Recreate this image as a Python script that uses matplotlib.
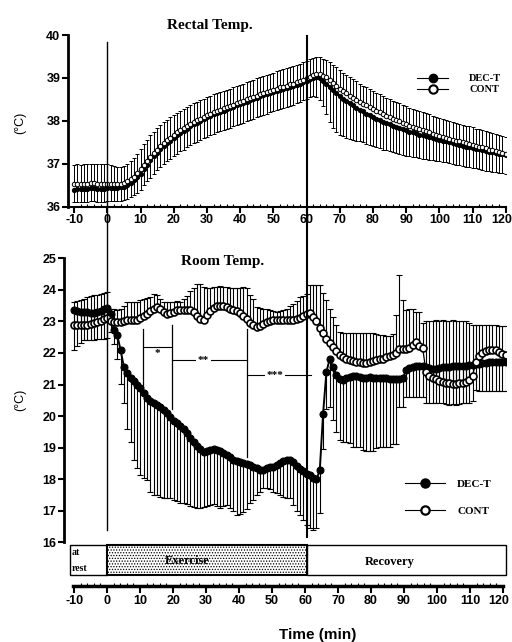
import numpy as np
import matplotlib
matplotlib.use("Agg")
import matplotlib.pyplot as plt
from matplotlib import transforms
from matplotlib.lines import Line2D
from matplotlib.patches import Rectangle
from matplotlib.ticker import MultipleLocator

plt.rcParams["axes.unicode_minus"] = False
plt.rcParams["hatch.linewidth"] = 0.6

# ---------------- data ----------------
time_min = list(range(-10, 121))

rectal_dec = [
    36.40, 36.41, 36.41, 36.42, 36.42, 36.43, 36.43, 36.42, 36.42, 36.42, 36.43,
    36.43, 36.43, 36.44, 36.45, 36.47, 36.51, 36.56, 36.62, 36.69, 36.77,
    36.88, 36.98, 37.08, 37.17, 37.26, 37.34, 37.41, 37.48, 37.54, 37.60,
    37.66, 37.72, 37.77, 37.82, 37.87, 37.92, 37.96, 38.00, 38.04, 38.08,
    38.12, 38.15, 38.18, 38.21, 38.24, 38.27, 38.30, 38.33, 38.36, 38.39,
    38.42, 38.45, 38.48, 38.51, 38.54, 38.57, 38.60, 38.62, 38.65, 38.67,
    38.70, 38.72, 38.74, 38.76, 38.78, 38.81, 38.84, 38.87, 38.90, 38.93,
    38.97, 39.00, 39.01, 38.99, 38.94, 38.87, 38.80, 38.72, 38.64, 38.57,
    38.52, 38.46, 38.41, 38.36, 38.31, 38.26, 38.22, 38.17, 38.13, 38.09,
    38.05, 38.02, 37.98, 37.95, 37.92, 37.89, 37.86, 37.83, 37.80, 37.78,
    37.75, 37.73, 37.71, 37.68, 37.66, 37.64, 37.62, 37.60, 37.58, 37.56,
    37.54, 37.52, 37.50, 37.48, 37.46, 37.44, 37.42, 37.40, 37.39, 37.37,
    37.35, 37.34, 37.32, 37.30, 37.28, 37.27, 37.25, 37.23, 37.22, 37.20]

rectal_dec_sd = [
    0.30, 0.30, 0.31, 0.30, 0.31, 0.30, 0.30, 0.31, 0.30, 0.30, 0.30,
    0.30, 0.30, 0.31, 0.31, 0.32, 0.33, 0.34, 0.35, 0.36, 0.37,
    0.38, 0.39, 0.40, 0.40, 0.41, 0.41, 0.42, 0.42, 0.42, 0.43,
    0.43, 0.43, 0.44, 0.44, 0.44, 0.44, 0.45, 0.45, 0.45, 0.45,
    0.45, 0.45, 0.45, 0.45, 0.45, 0.45, 0.46, 0.46, 0.46, 0.46,
    0.46, 0.46, 0.46, 0.46, 0.46, 0.46, 0.46, 0.46, 0.45, 0.45,
    0.45, 0.45, 0.44, 0.44, 0.44, 0.43, 0.43, 0.42, 0.42, 0.42,
    0.42, 0.43, 0.45, 0.50, 0.60, 0.72, 0.82, 0.88, 0.90, 0.90,
    0.88, 0.86, 0.84, 0.80, 0.77, 0.74, 0.72, 0.70, 0.69, 0.68,
    0.67, 0.66, 0.65, 0.64, 0.63, 0.62, 0.61, 0.60, 0.60, 0.59,
    0.58, 0.57, 0.56, 0.55, 0.55, 0.54, 0.53, 0.52, 0.51, 0.50,
    0.50, 0.49, 0.49, 0.48, 0.48, 0.48, 0.47, 0.47, 0.47, 0.46,
    0.46, 0.46, 0.46, 0.46, 0.45, 0.45, 0.45, 0.45, 0.44, 0.44]

rectal_con = [
    36.52, 36.53, 36.53, 36.54, 36.54, 36.55, 36.55, 36.54, 36.54, 36.53, 36.53,
    36.52, 36.52, 36.52, 36.53, 36.55, 36.59, 36.64, 36.70, 36.78, 36.87,
    36.97, 37.07, 37.16, 37.25, 37.33, 37.41, 37.48, 37.55, 37.61, 37.67,
    37.73, 37.78, 37.83, 37.88, 37.93, 37.97, 38.01, 38.05, 38.09, 38.13,
    38.16, 38.20, 38.23, 38.26, 38.29, 38.32, 38.35, 38.38, 38.41, 38.44,
    38.47, 38.50, 38.53, 38.56, 38.59, 38.62, 38.65, 38.67, 38.70, 38.72,
    38.75, 38.78, 38.80, 38.82, 38.85, 38.87, 38.90, 38.93, 38.96, 39.00,
    39.03, 39.06, 39.08, 39.08, 39.05, 39.01, 38.95, 38.89, 38.82, 38.75,
    38.69, 38.64, 38.59, 38.54, 38.49, 38.44, 38.40, 38.36, 38.32, 38.28,
    38.24, 38.20, 38.16, 38.12, 38.08, 38.05, 38.02, 37.99, 37.96, 37.92,
    37.89, 37.86, 37.84, 37.81, 37.78, 37.76, 37.73, 37.70, 37.68, 37.65,
    37.63, 37.61, 37.58, 37.56, 37.54, 37.52, 37.50, 37.48, 37.46, 37.44,
    37.42, 37.40, 37.38, 37.36, 37.33, 37.31, 37.29, 37.27, 37.24, 37.22]

rectal_con_sd = [
    0.46, 0.46, 0.45, 0.45, 0.45, 0.45, 0.45, 0.45, 0.45, 0.46, 0.46,
    0.44, 0.42, 0.41, 0.40, 0.40, 0.41, 0.42, 0.43, 0.45, 0.47,
    0.48, 0.49, 0.50, 0.50, 0.50, 0.49, 0.49, 0.48, 0.47, 0.47,
    0.46, 0.46, 0.45, 0.45, 0.44, 0.44, 0.44, 0.43, 0.43, 0.43,
    0.42, 0.42, 0.42, 0.41, 0.41, 0.41, 0.40, 0.40, 0.40, 0.40,
    0.40, 0.40, 0.40, 0.40, 0.40, 0.40, 0.40, 0.40, 0.40, 0.40,
    0.40, 0.40, 0.40, 0.40, 0.40, 0.40, 0.40, 0.40, 0.40, 0.40,
    0.40, 0.40, 0.40, 0.40, 0.40, 0.41, 0.42, 0.42, 0.43, 0.43,
    0.43, 0.43, 0.43, 0.43, 0.43, 0.43, 0.42, 0.42, 0.42, 0.42,
    0.42, 0.42, 0.42, 0.42, 0.42, 0.42, 0.42, 0.42, 0.42, 0.42,
    0.42, 0.42, 0.42, 0.42, 0.42, 0.42, 0.42, 0.42, 0.42, 0.42,
    0.41, 0.41, 0.41, 0.41, 0.41, 0.41, 0.41, 0.41, 0.41, 0.41,
    0.40, 0.40, 0.40, 0.40, 0.40, 0.40, 0.40, 0.40, 0.40, 0.40]

room_dec = [
    23.35, 23.33, 23.31, 23.30, 23.29, 23.28, 23.28, 23.30, 23.33, 23.38, 23.44,
    23.25, 22.72, 22.56, 22.09, 21.56, 21.35, 21.20, 21.10, 21.00, 20.90,
    20.72, 20.58, 20.48, 20.42, 20.36, 20.30, 20.20, 20.10, 19.98, 19.85,
    19.78, 19.70, 19.60, 19.45, 19.32, 19.18, 19.05, 18.95, 18.87, 18.88,
    18.93, 18.95, 18.92, 18.88, 18.83, 18.78, 18.70, 18.62, 18.58, 18.53,
    18.50, 18.48, 18.45, 18.40, 18.35, 18.30, 18.30, 18.35, 18.40, 18.40,
    18.45, 18.52, 18.58, 18.62, 18.62, 18.55, 18.42, 18.32, 18.25, 18.18,
    18.12, 18.05, 18.00, 18.28, 20.08, 21.40, 21.82, 21.55, 21.30, 21.18,
    21.15, 21.20, 21.25, 21.28, 21.28, 21.25, 21.22, 21.22, 21.24, 21.22,
    21.20, 21.20, 21.22, 21.20, 21.18, 21.18, 21.17, 21.17, 21.20, 21.45,
    21.52, 21.55, 21.58, 21.60, 21.60, 21.55, 21.52, 21.50, 21.50, 21.52,
    21.55, 21.56, 21.56, 21.58, 21.58, 21.58, 21.60, 21.60, 21.62, 21.62,
    21.65, 21.66, 21.67, 21.68, 21.70, 21.70, 21.70, 21.71, 21.71, 21.70]

room_dec_sd = [
    1.26, 1.10, 0.98, 0.90, 0.88, 0.86, 0.86, 0.87, 0.90, 0.94, 0.98,
    0.60, 0.42, 0.74, 1.06, 1.16, 1.75, 2.02, 2.50, 2.66, 2.77,
    2.67, 2.61, 2.88, 2.92, 2.86, 2.85, 2.80, 2.71, 2.59, 2.50,
    2.48, 2.45, 2.37, 2.25, 2.17, 2.06, 1.97, 1.85, 1.75, 1.73,
    1.75, 1.75, 1.77, 1.78, 1.68, 1.60, 1.60, 1.62, 1.72, 1.63,
    1.53, 1.43, 1.22, 1.05, 0.85, 0.70, 0.59, 0.63, 0.72, 0.80,
    0.90, 1.02, 1.13, 1.22, 1.23, 1.37, 1.42, 1.46, 1.54, 1.63,
    1.67, 1.66, 1.55, 1.36, 1.11, 1.16, 1.52, 1.68, 1.80, 1.93,
    1.97, 2.02, 2.10, 2.25, 2.25, 2.22, 2.30, 2.32, 2.35, 2.33,
    2.20, 2.17, 2.19, 2.17, 2.15, 2.05, 2.04, 0.87, 0.90, 0.85,
    0.92, 0.95, 0.98, 1.00, 1.00, 1.15, 1.12, 1.10, 1.10, 1.12,
    1.15, 1.18, 1.20, 1.20, 1.22, 1.20, 1.20, 1.18, 1.20, 1.15,
    0.83, 0.85, 0.86, 0.88, 0.90, 0.90, 0.90, 0.90, 0.90, 0.90]

room_con = [
    22.88, 22.88, 22.88, 22.89, 22.90, 22.92, 22.95, 22.98, 23.02, 23.08, 23.12,
    23.02, 22.98, 22.97, 22.98, 23.00, 23.03, 23.05, 23.03, 23.06, 23.12,
    23.18, 23.25, 23.32, 23.40, 23.46, 23.40, 23.30, 23.25, 23.26, 23.30,
    23.35, 23.36, 23.35, 23.36, 23.36, 23.30, 23.18, 23.08, 23.06, 23.20,
    23.32, 23.42, 23.48, 23.50, 23.48, 23.45, 23.40, 23.35, 23.32, 23.28,
    23.18, 23.08, 22.96, 22.88, 22.82, 22.85, 22.92, 22.98, 23.02, 23.04,
    23.05, 23.05, 23.04, 23.04, 23.03, 23.05, 23.08, 23.12, 23.16, 23.22,
    23.27, 23.15, 23.00, 22.80, 22.62, 22.45, 22.32, 22.18, 22.05, 21.95,
    21.88, 21.82, 21.78, 21.74, 21.72, 21.70, 21.68, 21.67, 21.72, 21.76,
    21.78, 21.80, 21.82, 21.86, 21.90, 21.93, 22.00, 22.12, 22.14, 22.14,
    22.15, 22.25, 22.35, 22.22, 22.15, 21.40, 21.28, 21.22, 21.18, 21.12,
    21.08, 21.06, 21.04, 21.03, 21.03, 21.04, 21.05, 21.08, 21.15, 21.28,
    21.70, 21.90, 22.00, 22.05, 22.08, 22.10, 22.08, 22.02, 21.96, 21.92]

room_con_sd = [
    0.73, 0.77, 0.80, 0.83, 0.86, 0.88, 0.88, 0.87, 0.86, 0.82, 0.81,
    0.38, 0.40, 0.38, 0.42, 0.50, 0.57, 0.57, 0.57, 0.56, 0.55,
    0.52, 0.50, 0.45, 0.48, 0.39, 0.30, 0.30, 0.37, 0.34, 0.31,
    0.30, 0.26, 0.35, 0.44, 0.59, 0.75, 1.02, 1.12, 1.04, 0.85,
    0.73, 0.68, 0.62, 0.62, 0.62, 0.63, 0.65, 0.70, 0.73, 0.77,
    0.90, 0.97, 0.89, 0.84, 0.64, 0.57, 0.48, 0.40, 0.33, 0.28,
    0.25, 0.27, 0.31, 0.36, 0.47, 0.51, 0.57, 0.65, 0.66, 0.64,
    0.87, 0.99, 1.14, 1.34, 1.28, 1.22, 1.08, 0.96, 0.85, 0.71,
    0.74, 0.80, 0.84, 0.88, 0.90, 0.92, 0.94, 0.95, 0.90, 0.86,
    0.82, 0.78, 0.76, 0.69, 0.65, 0.67, 1.19, 2.34, 1.53, 1.21,
    1.25, 1.15, 0.95, 1.08, 0.80, 1.60, 1.74, 1.80, 1.85, 1.90,
    1.95, 1.96, 1.98, 2.00, 1.99, 1.98, 1.96, 1.92, 1.80, 1.60,
    1.20, 1.00, 0.90, 0.85, 0.80, 0.78, 0.80, 0.85, 0.90, 0.92]

series_labels = ["DEC-T", "CONT"]

# phases (minutes)
phase_names = ["at\nrest", "Exercise", "Recovery"]
phase_start = [-11.2, 0, 60.2]
phase_end = [0, 60.2, 120]

# significance brackets (minutes, °C)
sig_labels = ["*", "**", "***"]
sig_t0 = [10.85, 19.5, 42.2]
sig_t1 = [19.5, 42.2, 61.5]
sig_level = [22.19, 21.77, 21.29]
sig_text_t = [15.2, 29.0, 50.5]
sig_vlines_t = [10.85, 19.5, 42.2]
sig_vlines_top = [22.77, 22.88, 22.77]
sig_vlines_bot = [20.92, 20.24, 18.71]

x_ticks = list(range(-10, 121, 10))
rect_ticks = [36, 37, 38, 39, 40]
room_ticks = list(range(16, 26))

# ---------------- figure ----------------
W, H = 512, 642
fig = plt.figure(figsize=(W / 100, H / 100), dpi=100)

T0_PX, PX_PER_MIN = 107.3, 3.32


def t_of(px):
    return (px - T0_PX) / PX_PER_MIN


def axes_px(left, right, top, bottom):
    return fig.add_axes([left / W, 1 - bottom / H, (right - left) / W, (bottom - top) / H])


sans = "Liberation Sans"
serif = "Liberation Serif"
tick_font = dict(family=sans, weight="bold", size=9)

t = np.array(time_min, dtype=float)


def draw_series(ax, y, sd, up, filled, ms, mew, cap, lw, elw):
    y = np.array(y)
    sd = np.array(sd)
    z = np.zeros_like(sd)
    yerr = [z, sd] if up else [sd, z]
    ax.errorbar(t, y, yerr=yerr, fmt="none", ecolor="black", elinewidth=elw,
                capsize=cap, capthick=elw, zorder=2)
    ax.plot(t, y, "-", color="black", lw=lw, zorder=3)
    ax.plot(t, y, "o", ls="none", mfc="black" if filled else "white", mec="black",
            ms=ms, mew=mew, zorder=4)


def style_xlabels(ax):
    labels = ax.get_xticklabels()
    for lab in labels:
        lab.set_fontproperties(tick_font)
        lab.set_fontsize(9)
    last = labels[-1]
    last.set_transform(last.get_transform() +
                       transforms.ScaledTranslation(-4 / 100, 0, fig.dpi_scale_trans))


# ---- top panel: rectal temperature
ax1 = axes_px(68, 506, 35, 206.7)
ax1.set_xlim(t_of(68), t_of(506))
ax1.set_ylim(36, 40)
draw_series(ax1, rectal_dec, rectal_dec_sd, False, True, 3.2, 0.6, 1.6, 0.9, 0.7)
draw_series(ax1, rectal_con, rectal_con_sd, True, False, 3.2, 0.7, 1.6, 0.9, 0.7)
for s in ["top", "right"]:
    ax1.spines[s].set_visible(False)
ax1.spines["left"].set_linewidth(2)
ax1.spines["bottom"].set_linewidth(1.5)
ax1.set_yticks(rect_ticks)
ax1.set_xticks(x_ticks)
ax1.xaxis.set_minor_locator(MultipleLocator(2))
ax1.tick_params(axis="both", which="major", length=4, width=1.5, pad=1.5)
ax1.tick_params(axis="x", which="minor", direction="in", length=2.5, width=0.8)
for lab in ax1.get_yticklabels():
    lab.set_fontproperties(tick_font)
    lab.set_fontsize(9)
style_xlabels(ax1)

h1 = [Line2D([], [], color="black", lw=0.8, marker="o", mfc="black", mec="black", ms=6),
      Line2D([], [], color="black", lw=0.8, marker="o", mfc="white", mec="black", ms=6, mew=1.5)]
ax1.legend(h1, series_labels, loc="upper left", bbox_to_anchor=(417 / W, 1 - 74 / H),
           bbox_transform=fig.transFigure, frameon=False, borderpad=0, borderaxespad=0,
           handlelength=3.0, handletextpad=2.0, labelspacing=0.15,
           prop=dict(family=serif, weight="bold", size=7.5))

# ---- bottom panel: room temperature
ax2 = axes_px(64, 506, 258.3, 542.3)
ax2.set_xlim(t_of(64), t_of(506))
ax2.set_ylim(16, 25)
draw_series(ax2, room_dec, room_dec_sd, False, True, 5.0, 0.8, 2.0, 1.4, 0.8)
draw_series(ax2, room_con, room_con_sd, True, False, 5.0, 1.2, 2.0, 0.9, 0.8)
for s in ["top", "right", "bottom"]:
    ax2.spines[s].set_visible(False)
ax2.spines["left"].set_linewidth(2)
ax2.set_yticks(room_ticks)
ax2.set_xticks([])
ax2.tick_params(axis="y", length=4, width=1.5, pad=1.5)
for lab in ax2.get_yticklabels():
    lab.set_fontproperties(tick_font)
    lab.set_fontsize(9)

# significance brackets
for lab, a, b, lev, tx in zip(sig_labels, sig_t0, sig_t1, sig_level, sig_text_t):
    ax2.plot([a, b], [lev, lev], color="black", lw=0.8, zorder=5)
    if lab == "*":
        ax2.text(tx, lev - 0.22, lab, ha="center", va="center", fontsize=8,
                 family=serif, weight="bold", zorder=6)
    else:
        ax2.text(tx, lev, lab, ha="center", va="center", fontsize=8, family=serif,
                 weight="bold", zorder=6,
                 bbox=dict(facecolor="white", edgecolor="none", pad=1.2))
for vt, top, bot in zip(sig_vlines_t, sig_vlines_top, sig_vlines_bot):
    ax2.plot([vt, vt], [bot, top], color="black", lw=0.9, zorder=5)

h2 = [Line2D([], [], color="black", lw=0.8, marker="o", mfc="black", mec="black", ms=6.5),
      Line2D([], [], color="black", lw=0.8, marker="o", mfc="white", mec="black", ms=6, mew=1.6)]
ax2.legend(h2, series_labels, loc="upper left", bbox_to_anchor=(405 / W, 1 - 479 / H),
           bbox_transform=fig.transFigure, frameon=False, borderpad=0, borderaxespad=0,
           handlelength=3.6, handletextpad=1.1, labelspacing=1.55,
           prop=dict(family=serif, weight="bold", size=8))

# ---- phase bar
ax3 = axes_px(64, 506, 545, 575)
ax3.set_xlim(t_of(64), t_of(506))
ax3.set_ylim(0, 1)
ax3.axis("off")
for name, a, b in zip(phase_names, phase_start, phase_end):
    hatch = "......" if name == "Exercise" else None
    ax3.add_patch(Rectangle((a, 0), b - a, 1, facecolor="white", edgecolor="black",
                            lw=1.5 if name == "Exercise" else 1.0, hatch=hatch,
                            clip_on=False))
ax3.text(phase_start[0] + 0.6, 0.76, "at", ha="left", va="center", fontsize=7,
         family=serif, weight="bold")
ax3.text(phase_start[0] + 0.6, 0.22, "rest", ha="left", va="center", fontsize=7,
         family=serif, weight="bold")
ax3.text(24, 0.45, "Exercise", ha="center", va="center", fontsize=9, family=serif,
         weight="bold")
ax3.text(85, 0.45, "Recovery", ha="center", va="center", fontsize=9, family=serif,
         weight="bold")

# ---- time axis
ax4 = axes_px(73, 503, 575.7, 585.7)
ax4.set_xlim(t_of(73), t_of(503))
ax4.set_ylim(0, 1)
for s in ["top", "right", "left"]:
    ax4.spines[s].set_visible(False)
ax4.spines["bottom"].set_linewidth(2.5)
ax4.set_yticks([])
ax4.set_xticks(x_ticks)
ax4.xaxis.set_minor_locator(MultipleLocator(2))
ax4.tick_params(axis="x", which="major", length=5, width=1.5, pad=2)
ax4.tick_params(axis="x", which="minor", direction="in", length=2.5, width=0.8)
ax4.patch.set_visible(False)
style_xlabels(ax4)

# ---- phase boundary lines spanning both panels
trans = transforms.blended_transform_factory(ax2.transData, fig.transFigure)
fig.add_artist(Line2D([0, 0], [1 - 41.7 / H, 1 - 530 / H], transform=trans,
                      color="black", lw=1.0, zorder=10))
fig.add_artist(Line2D([60, 60], [1 - 36 / H, 1 - 537 / H], transform=trans,
                      color="black", lw=1.5, zorder=10))

# ---- texts
fig.text(210 / W, 1 - 25 / H, "Rectal Temp.", ha="center", va="center",
         family=serif, weight="bold", fontsize=11)
fig.text(223 / W, 1 - 261.7 / H, "Room Temp.", ha="center", va="center",
         family=serif, weight="bold", fontsize=11)
fig.text(20 / W, 1 - 123 / H, "(°C)", rotation=90, ha="center", va="center",
         family=sans, fontsize=9)
fig.text(20 / W, 1 - 400 / H, "(°C)", rotation=90, ha="center", va="center",
         family=sans, fontsize=9)
fig.text(318 / W, 1 - 635 / H, "Time (min)", ha="center", va="center",
         family=sans, weight="bold", fontsize=11)

fig.savefig("out.png", dpi=100)
